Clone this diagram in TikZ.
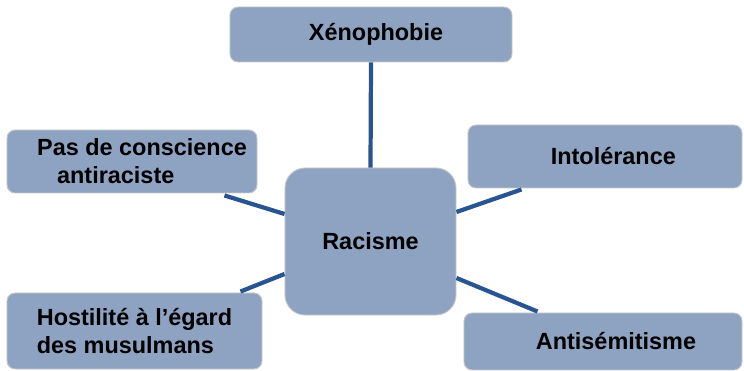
\documentclass[tikz,border=0pt]{standalone}
\usepackage{fontspec}
\setmainfont{Liberation Sans}
\usetikzlibrary{calc}
\definecolor{boxfill}{RGB}{142,163,194}
\definecolor{boxline}{RGB}{200,200,200}
\definecolor{linkline}{RGB}{40,84,145}
\begin{document}
\begin{tikzpicture}[
    x=0.03cm, y=-0.03cm,
    term/.style={rectangle, draw=boxline, line width=0.8pt, fill=boxfill,
                 rounded corners=0.24cm, align=center, inner sep=0pt,
                 font=\bfseries\fontsize{20}{24}\selectfont},
    centre/.style={term, rounded corners=0.6cm},
    link/.style={draw=linkline, line width=3.6pt}
]
    \useasboundingbox (0,0) rectangle (744,371);

    % Racisme
    \node[centre, minimum width=5.13cm, minimum height=4.41cm] (racisme) at (370.5,241.5) {Racisme};

    % Causes
    \node[term, minimum width=8.46cm, minimum height=1.65cm] (xeno) at (371,34.5) {\hspace*{0.3cm}Xénophobie};
    \node[term, minimum width=7.5cm, minimum height=1.89cm, align=left] (pas) at (132,161.5)
        {\hspace*{0.6cm}Pas de conscience\\\hspace*{1.2cm}antiraciste};
    \node[term, minimum width=7.65cm, minimum height=2.28cm, align=left] (hostilite) at (134.5,331)
        {Hostilité à l’égard\\des musulmans};
    \node[term, minimum width=8.22cm, minimum height=1.89cm] (intol) at (605,156.5) {\hspace*{0.5cm}Intolérance};
    \node[term, minimum width=8.34cm, minimum height=1.71cm] (anti) at (603,341.5) {\hspace*{0.78cm}Antisémitisme};

    % Links
    \draw[link] (xeno.south) -- (racisme.north);
    \draw[link] ($(pas.south east)+(-33,2)$) -- ($(racisme.west)+(0,-27.5)$);
    \draw[link] ($(hostilite.north east)+(-22,-1)$) -- ($(racisme.west)+(0,32.5)$);
    \draw[link] ($(intol.south west)+(54,1)$) -- ($(racisme.east)+(0,-29.5)$);
    \draw[link] ($(racisme.east)+(0,36.5)$) -- ($(anti.north west)+(74,-1)$);
\end{tikzpicture}
\end{document}
